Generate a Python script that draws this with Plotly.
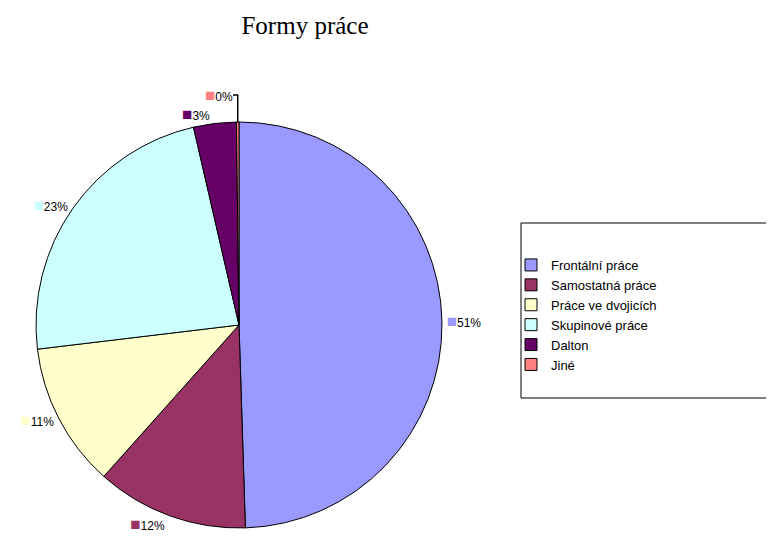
import plotly.graph_objects as go

categories = ["Frontální práce", "Samostatná práce", "Práce ve dvojicích",
              "Skupinové práce", "Dalton", "Jiné"]
values = [49.5, 12.1, 11.5, 23.3, 3.4, 0.2]
pct_labels = ["51%", "12%", "11%", "23%", "3%", "0%"]
colors = ["#9999FF", "#993366", "#FFFFCC", "#CCFFFF", "#660066", "#FF8080"]

texts = [f"<span style='color:{c};font-size:17px'>■</span>{p}" for c, p in zip(colors, pct_labels)]

W, H = 774, 540

fig = go.Figure(go.Pie(
    labels=categories,
    values=values,
    text=texts,
    textinfo="text",
    textposition="outside",
    sort=False,
    direction="clockwise",
    rotation=0,
    marker=dict(colors=colors, line=dict(color="black", width=1)),
    textfont=dict(family="Liberation Sans, Arial", size=12, color="black"),
    domain=dict(x=[28/W, 434/W], y=[1-520/H, 1-114/H]),
    hoverinfo="label+percent",
))

fig.update_layout(
    width=W, height=H,
    margin=dict(l=0, r=0, t=0, b=0),
    paper_bgcolor="white",
    plot_bgcolor="white",
    title=dict(text="Formy práce", x=297/W, xanchor="center", y=1-17/H, yanchor="middle",
               font=dict(family="Liberation Serif, Times New Roman", size=25, color="black")),
    showlegend=True,
    legend=dict(x=503/W, y=1-242/H, xanchor="left", yanchor="top",
                font=dict(family="Liberation Sans, Arial", size=13, color="black"),
                bgcolor="rgba(0,0,0,0)", itemwidth=30, tracegroupgap=0),
    shapes=[dict(type="rect", xref="paper", yref="paper",
                 x0=513/W, x1=764/W, y0=1-390/H, y1=1-215/H,
                 line=dict(color="black", width=1), fillcolor="rgba(0,0,0,0)")],
)

fig.write_html("out.html")
